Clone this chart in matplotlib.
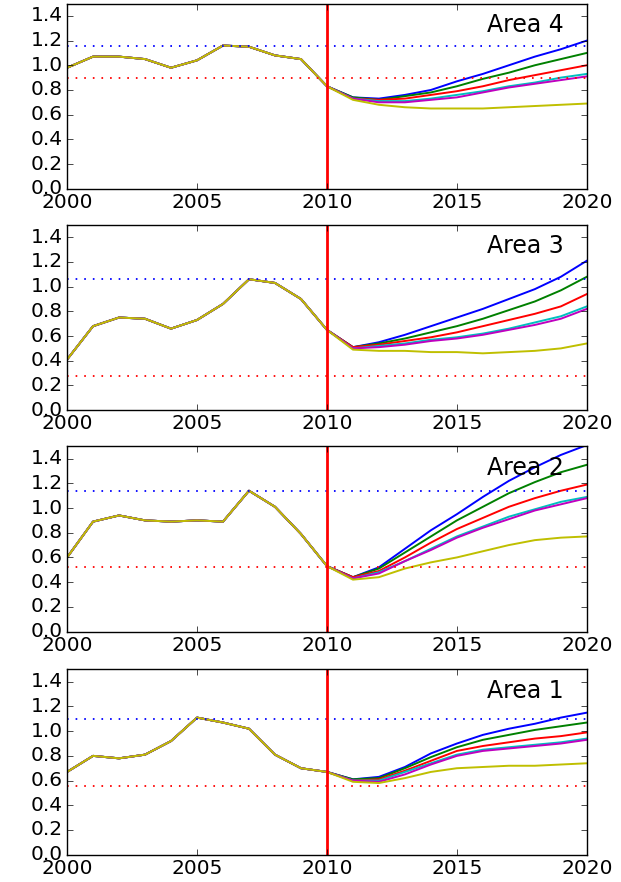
import matplotlib
matplotlib.use('Agg')
import matplotlib.pyplot as plt

plt.style.use('classic')

years = list(range(2000, 2021))
scenario_colors = ['b', 'g', 'r', 'c', 'm', 'y']

# observed index per area, 2000-2010
hist_area4 = [0.98, 1.07, 1.07, 1.05, 0.98, 1.04, 1.16, 1.15, 1.08, 1.05, 0.83]
hist_area3 = [0.41, 0.68, 0.75, 0.74, 0.66, 0.73, 0.86, 1.06, 1.03, 0.90, 0.65]
hist_area2 = [0.60, 0.89, 0.94, 0.90, 0.89, 0.90, 0.89, 1.14, 1.01, 0.79, 0.53]
hist_area1 = [0.67, 0.80, 0.78, 0.81, 0.92, 1.11, 1.07, 1.02, 0.81, 0.70, 0.67]

# projections 2011-2020, one list per scenario (b, g, r, c, m, y)
proj_area4 = [
    [0.74, 0.73, 0.76, 0.80, 0.87, 0.93, 1.00, 1.07, 1.13, 1.20],
    [0.74, 0.72, 0.75, 0.78, 0.83, 0.89, 0.94, 1.00, 1.05, 1.10],
    [0.73, 0.72, 0.73, 0.76, 0.79, 0.83, 0.88, 0.92, 0.96, 1.00],
    [0.73, 0.71, 0.71, 0.73, 0.76, 0.79, 0.83, 0.86, 0.90, 0.93],
    [0.73, 0.70, 0.70, 0.72, 0.74, 0.78, 0.82, 0.85, 0.88, 0.91],
    [0.72, 0.68, 0.66, 0.65, 0.65, 0.65, 0.66, 0.67, 0.68, 0.69],
]
proj_area3 = [
    [0.51, 0.55, 0.61, 0.68, 0.75, 0.82, 0.90, 0.98, 1.08, 1.21],
    [0.51, 0.54, 0.58, 0.63, 0.68, 0.74, 0.81, 0.88, 0.97, 1.08],
    [0.51, 0.53, 0.56, 0.59, 0.63, 0.68, 0.73, 0.78, 0.84, 0.94],
    [0.50, 0.52, 0.54, 0.57, 0.59, 0.62, 0.66, 0.71, 0.76, 0.84],
    [0.50, 0.51, 0.53, 0.56, 0.58, 0.61, 0.65, 0.69, 0.74, 0.82],
    [0.49, 0.48, 0.48, 0.47, 0.47, 0.46, 0.47, 0.48, 0.50, 0.54],
]
proj_area2 = [
    [0.44, 0.52, 0.67, 0.82, 0.95, 1.09, 1.22, 1.33, 1.43, 1.51],
    [0.44, 0.51, 0.64, 0.77, 0.90, 1.01, 1.12, 1.21, 1.29, 1.35],
    [0.44, 0.49, 0.60, 0.72, 0.83, 0.92, 1.01, 1.08, 1.14, 1.19],
    [0.43, 0.48, 0.57, 0.67, 0.77, 0.85, 0.93, 0.99, 1.05, 1.09],
    [0.43, 0.47, 0.57, 0.66, 0.76, 0.84, 0.91, 0.98, 1.03, 1.08],
    [0.42, 0.44, 0.51, 0.56, 0.60, 0.65, 0.70, 0.74, 0.76, 0.77],
]
proj_area1 = [
    [0.61, 0.63, 0.71, 0.82, 0.90, 0.97, 1.02, 1.06, 1.11, 1.15],
    [0.61, 0.62, 0.70, 0.79, 0.87, 0.93, 0.97, 1.01, 1.04, 1.07],
    [0.60, 0.61, 0.68, 0.76, 0.84, 0.88, 0.91, 0.94, 0.96, 0.99],
    [0.60, 0.60, 0.67, 0.74, 0.81, 0.85, 0.87, 0.89, 0.91, 0.94],
    [0.60, 0.59, 0.65, 0.73, 0.80, 0.84, 0.86, 0.88, 0.90, 0.93],
    [0.59, 0.58, 0.62, 0.67, 0.70, 0.71, 0.72, 0.72, 0.73, 0.74],
]

# upper / lower reference levels
upper_levels = [1.16, 1.06, 1.14, 1.10]
lower_levels = [0.90, 0.28, 0.52, 0.56]

areas = ['Area 4', 'Area 3', 'Area 2', 'Area 1']
hists = [hist_area4, hist_area3, hist_area2, hist_area1]
projs = [proj_area4, proj_area3, proj_area2, proj_area1]

fig = plt.figure(figsize=(6.21, 8.82), dpi=100)
fig.patch.set_facecolor('white')

left, width = 0.108, 0.837
height = 0.21
bottoms = [0.786, 0.535, 0.284, 0.031]

for i in range(4):
    ax = fig.add_axes([left, bottoms[i], width, height])
    for proj, col in zip(projs[i], scenario_colors):
        ax.plot(years, hists[i] + proj, color=col, lw=1.4)
    ax.axhline(upper_levels[i], color='b', lw=1.3, dashes=(1.2, 5))
    ax.axhline(lower_levels[i], color='r', lw=1.3, dashes=(1.2, 5))
    ax.axvline(2010, color='r', lw=2)
    ax.set_xlim(2000, 2020)
    ax.set_ylim(0, 1.5)
    ax.set_xticks([2000, 2005, 2010, 2015, 2020])
    ax.set_yticks([0.0, 0.2, 0.4, 0.6, 0.8, 1.0, 1.2, 1.4])
    ax.ticklabel_format(useOffset=False)
    ax.tick_params(labelsize=14.5, pad=3)
    ax.text(0.955, 0.95, areas[i], transform=ax.transAxes,
            ha='right', va='top', fontsize=17)

fig.savefig('out.png', dpi=100, facecolor='white')
